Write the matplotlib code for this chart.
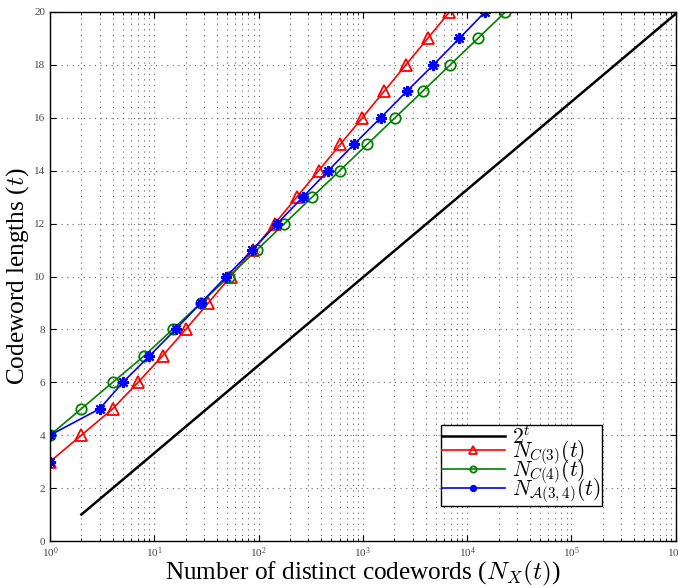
import matplotlib
matplotlib.use('Agg')
import matplotlib.pyplot as plt
import numpy as np

plt.rcParams['font.family'] = 'serif'
plt.rcParams['font.serif'] = ['Liberation Serif', 'DejaVu Serif']
plt.rcParams['mathtext.fontset'] = 'cm'

# data
t_pow = np.arange(1, 21)
n_pow = 2.0 ** t_pow

t_c3 = np.arange(3, 21)
n_c3 = [1, 2, 4, 7, 12, 20, 33, 54, 88, 143, 232, 376, 609, 986, 1596, 2583, 4180, 6764]

t_c4 = np.arange(4, 21)
n_c4 = [1, 2, 4, 8, 15, 28, 52, 96, 177, 326, 600, 1104, 2031, 3736, 6872, 12640, 23249]

t_a34 = np.arange(3, 21)
n_a34 = [1, 1, 3, 5, 9, 16, 28, 49, 87, 151, 265, 466, 822, 1480, 2630, 4740, 8410, 14820]

fig = plt.figure(figsize=(6.78, 5.88), dpi=100)
ax = fig.add_axes([0.0737, 0.0799, 0.923, 0.8997])

ax.plot(n_pow, t_pow, color='black', lw=1.8, label=r'$2^t$')
ax.plot(n_c3, t_c3, color='red', lw=1.2, marker='^', ms=9, mfc='none', mew=1.3,
        label=r'$N_{C(3)}(t)$')
ax.plot(n_c4, t_c4, color='green', lw=1.2, marker='o', ms=7.5, mfc='none', mew=1.3,
        label=r'$N_{C(4)}(t)$')
ax.plot(n_a34, t_a34, color='blue', lw=1.2, marker=(8, 2, 0), ms=8, mew=1.6,
        label=r'$N_{\mathcal{A}(3,4)}(t)$')

ax.set_xscale('log')
ax.set_xlim(1, 1e6)
ax.set_ylim(0, 20)
ax.set_yticks(np.arange(0, 21, 2))

grid_style = dict(ls=(0, (1, 4)), color='#666666', lw=0.8)
ax.grid(True, which='major', axis='both', **grid_style)
ax.grid(True, which='minor', axis='x', **grid_style)

ax.tick_params(which='both', direction='in', top=True, right=True,
               labelsize=8, labelcolor='#444444')
ax.tick_params(which='major', length=4)
ax.tick_params(which='minor', length=2)
for s in ax.spines.values():
    s.set_linewidth(1.0)

ax.set_xlabel(r'Number of distinct codewords ($N_X(t)$)', fontsize=18.2, labelpad=-1)
ax.set_ylabel(r'Codeword lengths ($t$)', fontsize=18.2, labelpad=2)

leg = ax.legend(loc='lower right', bbox_to_anchor=(0.882, 0.066), fontsize=15.5,
                numpoints=1, fancybox=False, edgecolor='black', framealpha=1,
                handlelength=2.9, borderpad=0.05, labelspacing=-0.45,
                handletextpad=0.35, markerscale=0.6, borderaxespad=0)
leg.get_frame().set_linewidth(1.0)

fig.savefig('out.png', dpi=100)
